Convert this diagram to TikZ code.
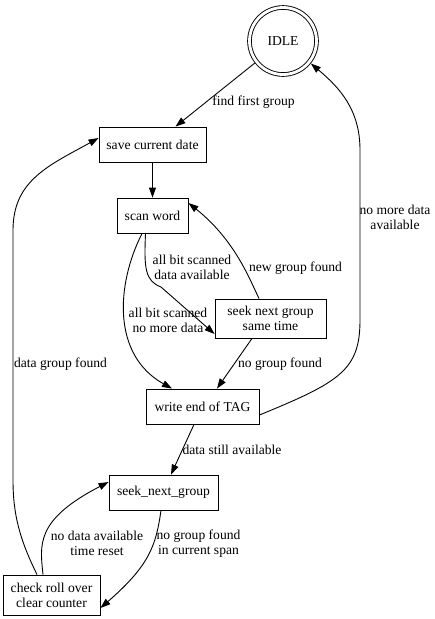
\documentclass[tikz,border=0pt]{standalone}
\usepackage{fontspec}
\setmainfont{Liberation Serif}
\usetikzlibrary{arrows.meta}
\begin{document}
\begin{tikzpicture}[x=1pt,y=-1pt,
  every node/.style={font=\fontsize{13.6}{15}\selectfont},
  box/.style={draw,rectangle,line width=0.9pt,inner sep=1pt,align=center},
  lbl/.style={inner sep=0pt,align=center},
  edge/.style={line width=0.9pt,-{Triangle[length=10pt,width=7pt]}},
  dblstate/.style={draw,circle,line width=0.9pt,double,double distance=2.8pt,minimum size=67pt,outer sep=2.3pt}]
\useasboundingbox (0,0) rectangle (435,619);
% nodes
\node[dblstate] (idle) at (283,41) {IDLE};
\node[box,minimum width=107pt,minimum height=35pt] (save) at (152.5,144.5) {save current date};
\node[box,minimum width=71pt,minimum height=35pt] (scan) at (152.5,215.5) {scan word};
\node[box,minimum width=111pt,minimum height=39pt] (seek1) at (270.5,318.5) {seek next group\\same time};
\node[box,minimum width=113pt,minimum height=35pt] (wend) at (202.5,406.5) {write end of TAG};
\node[box,minimum width=109pt,minimum height=35pt] (seek2) at (163.5,492.5) {seek\_next\_group};
\node[box,minimum width=97pt,minimum height=40pt] (check) at (51.5,595) {check roll over\\clear counter};
% labels
\node[lbl] (l1) at (253.5,102) {find first group};
\node[lbl] (l2) at (192,267) {all bit scanned\\data available};
\node[lbl] (l3) at (295.5,268) {new group found};
\node[lbl] (l4) at (168,320) {all bit scanned\\no more data};
\node[lbl] (l5) at (280,364) {no group found};
\node[lbl] (l6) at (395,217) {no more data\\available};
\node[lbl] (l7) at (60.5,364) {data group found};
\node[lbl] (l8) at (232,450) {data still available};
\node[lbl] (l9) at (198.5,543.5) {no group found\\in current span};
\node[lbl] (l10) at (97,543.5) {no data available\\time reset};
% edges
\draw[edge] (idle.218) -- ([xshift=23pt]save.north);
\draw[edge] (save.south) -- (scan.north);
\draw[edge] ([xshift=-7pt]scan.south) .. controls (144,268) and (145,281) .. (161,287) -- ([yshift=-15.5pt]seek1.west);
\draw[edge] ([xshift=-11.5pt]seek1.north) .. controls (250,280) and (235,240) .. ([yshift=12.5pt]scan.east);
\draw[edge] ([xshift=-10.5pt]scan.south) .. controls (116,285) and (112,355) .. ([xshift=-30.5pt]wend.north);
\draw[edge] ([xshift=-18.5pt]seek1.south) -- ([xshift=14.5pt]wend.north);
\draw[edge] ([yshift=-8.5pt]wend.east) .. controls (340,382) and (360,370) .. (360,320) -- (360,150) .. controls (360,110) and (340,88) .. (idle.-39);
\draw[edge] ([xshift=-8.5pt]wend.south) -- ([xshift=7.5pt]seek2.north);
\draw[edge] ([xshift=-2.5pt]seek2.south) .. controls (156,545) and (150,565) .. ([yshift=-13pt]check.east);
\draw[edge] ([xshift=-8.5pt]check.north) .. controls (40,545) and (35,520) .. ([yshift=10.5pt]seek2.west);
\draw[edge] ([xshift=-14.5pt]check.north) .. controls (20,540) and (13,515) .. (13,480) -- (13,230) .. controls (13,180) and (50,165) .. ([yshift=6.5pt]save.west);
\end{tikzpicture}
\end{document}
